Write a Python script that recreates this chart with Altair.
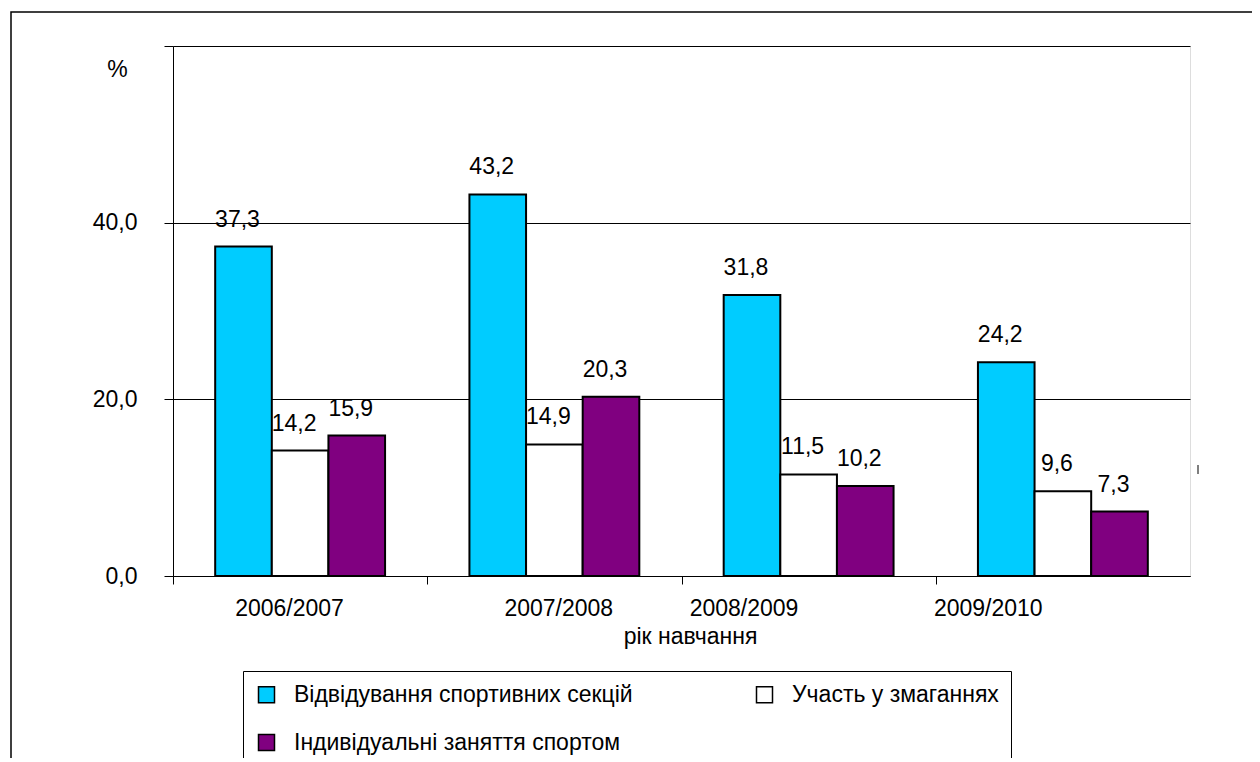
import altair as alt
import pandas as pd

years = ["2006/2007", "2007/2008", "2008/2009", "2009/2010"]
series = ["Відвідування спортивних секцій", "Участь у змаганнях", "Індивідуальні заняття спортом"]
visits = [37.3, 43.2, 31.8, 24.2]
competitions = [14.2, 14.9, 11.5, 9.6]
individual = [15.9, 20.3, 10.2, 7.3]
colors = ["#00CCFF", "#FFFFFF", "#800080"]
y_ticks = [0, 20, 40, 60]

rows = []
for s, vals in zip(series, [visits, competitions, individual]):
    for yr, v in zip(years, vals):
        rows.append({"year": yr, "series": s, "value": v})
df = pd.DataFrame(rows)

# legend lays entries out column by column: order so rows read as in the reference
legend_order = [series[0], series[2], series[1]]
legend_colors = [colors[0], colors[2], colors[1]]

FONT = "Liberation Sans"
FS = 23
W, H = 1017, 530

x_enc = alt.X(
    "year:N",
    sort=years,
    scale=alt.Scale(paddingInner=0, paddingOuter=0),
    axis=alt.Axis(
        orient="bottom",
        title="рік навчання",
        labelAngle=0,
        tickSize=8,
        tickOffset=-W / 8,
        labelOffset={
            "condition": [
                {"test": "datum.value === '2006/2007'", "value": 116},
                {"test": "datum.value === '2007/2008'", "value": 131},
                {"test": "datum.value === '2008/2009'", "value": 62},
            ],
            "value": 52,
        },
        labelPadding=13,
        grid=False,
        domainColor="black",
        tickColor="black",
        labelColor="black",
        labelFont=FONT,
        labelFontSize=FS,
        titleFont=FONT,
        titleFontSize=FS,
        titleFontWeight="normal",
        titleColor="black",
        titleX=517,
        titleY=60,
        titleAlign="center",
        titleBaseline="middle",
    ),
)
xoff_enc = alt.XOffset(
    "series:N", sort=series, scale=alt.Scale(paddingInner=0, paddingOuter=0.745)
)
y_enc = alt.Y(
    "value:Q",
    scale=alt.Scale(domain=[0, 60], nice=False),
    axis=alt.Axis(
        orient="left",
        values=y_ticks,
        labelExpr="datum.value >= 60 ? '' : replace(format(datum.value, '.1f'), '.', ',')",
        grid=True,
        gridColor="black",
        gridOpacity=1,
        tickColor="black",
        domainColor="black",
        tickSize=9,
        labelPadding=27,
        labelColor="black",
        labelFont=FONT,
        labelFontSize=FS,
        title="%",
        titleAngle=0,
        titleX=-56,
        titleY=23,
        titleAlign="center",
        titleBaseline="middle",
        titleFont=FONT,
        titleFontSize=FS,
        titleFontWeight="normal",
        titleColor="black",
    ),
)

base = alt.Chart(df)

bars = base.mark_bar(stroke="black", strokeWidth=2).encode(
    x=x_enc,
    xOffset=xoff_enc,
    y=y_enc,
    color=alt.Color(
        "series:N",
        scale=alt.Scale(domain=legend_order, range=legend_colors),
        legend=alt.Legend(
            title=None,
            orient="none",
            legendX=70,
            legendY=625,
            columns=2,
            columnPadding=120,
            rowPadding=24,
            padding=12,
            symbolType="square",
            symbolSize=256,
            symbolStrokeColor="black",
            symbolStrokeWidth=1.5,
            symbolOpacity=1,
            labelFont=FONT,
            labelFontSize=FS,
            labelColor="black",
            labelLimit=0,
            labelOffset=16,
            strokeColor="black",
            fillColor="white",
        ),
    ),
)

labels = base.transform_calculate(
    label="replace(format(datum.value, '.1f'), '.', ',')"
).mark_text(
    dy=-20, dx=-6, baseline="alphabetic", font=FONT, fontSize=FS, color="black"
).encode(
    x=alt.X("year:N", sort=years),
    xOffset=alt.XOffset("series:N", sort=series),
    y="value:Q",
    text="label:N",
)

one = pd.DataFrame({"a": [0]})
mark_tick = alt.Chart(one).mark_rule(color="#555555", strokeWidth=1.5).encode(
    x=alt.value(1025), y=alt.value(419), y2=alt.value(428)
)

plot = alt.layer(bars, labels, mark_tick)

# outer frame: one open polyline (bottom-left -> top-left -> top-right), its
# corners given as fractions that the frame's own scales map onto the page
frame_fx = [0, 0, 1]
frame_fy = [1, 0, 0]
frame_df = pd.DataFrame({"fx": frame_fx, "fy": frame_fy, "k": [0, 1, 2]})
frame = alt.Chart(frame_df).mark_line(
    color="black", strokeWidth=1.5, strokeJoin="miter"
).encode(
    x=alt.X("fx:Q", scale=alt.Scale(domain=[0, 1], range=[-162, 1200]), axis=None),
    y=alt.Y("fy:Q", scale=alt.Scale(domain=[0, 1], range=[-34, 800]), axis=None),
    order="k:Q",
)

chart = alt.layer(plot, frame).resolve_scale(
    x="independent", y="independent"
).properties(
    width=W,
    height=H,
    padding={"left": 165, "top": 38, "right": 62, "bottom": 182},
    autosize=alt.AutoSizeParams(type="none"),
).configure_view(stroke=None).configure(font=FONT)

chart.save("out.html", embed_options={"renderer": "svg", "actions": False})
